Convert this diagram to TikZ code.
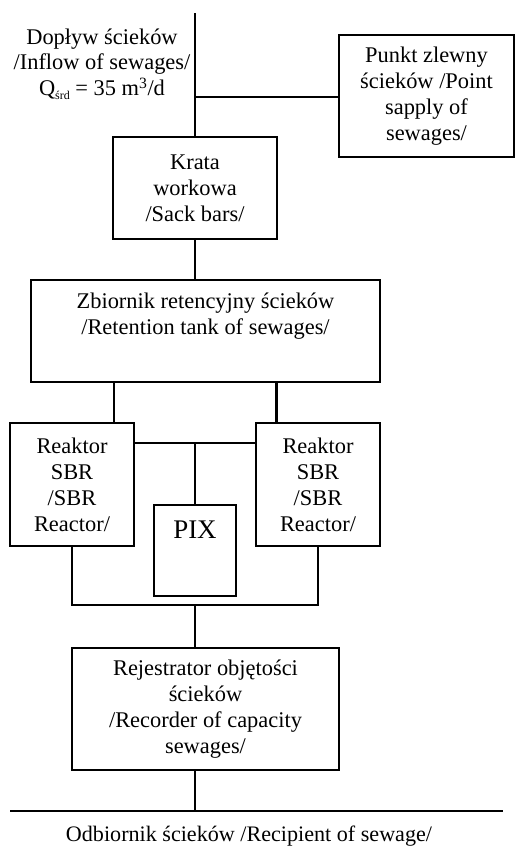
\documentclass[tikz,border=0pt]{standalone}
\usepackage{fontspec}
\setmainfont{Liberation Serif}
\usetikzlibrary{calc}
\begin{document}
\begin{tikzpicture}[x=1bp,y=-1bp,
  box/.style={draw,line width=1.7bp,inner sep=0pt,align=center,font=\fontsize{22.5}{26}\selectfont},
  txt/.style={inner sep=0pt,align=center,font=\fontsize{22.5}{26}\selectfont},
  thick line/.style={line width=2.7bp},
  thin line/.style={line width=1.7bp}]
\useasboundingbox (0,0) rectangle (515,847);
% boxes
\node[box,minimum width=175bp,minimum height=122bp] (punkt) at (426.5,96) {Punkt zlewny\\ścieków /Point\\sapply of\\sewages/};
\node[box,minimum width=164bp,minimum height=102bp] (krata) at (195,188) {Krata\\workowa\\/Sack bars/};
\node[box,minimum width=349bp,minimum height=102bp] (zb) at (205.5,331) {};
\node[txt] (zbt) at (205.5,316) {Zbiornik retencyjny ścieków\\/Retention tank of sewages/};
\node[box,minimum width=124bp,minimum height=123bp] (rl) at (72,484.5) {Reaktor\\SBR\\/SBR\\Reactor/};
\node[box,minimum width=124bp,minimum height=123bp] (rr) at (318,484.5) {Reaktor\\SBR\\/SBR\\Reactor/};
\node[box,minimum width=82bp,minimum height=91bp] (pix) at (195,550.5) {};
\node[inner sep=0pt,font=\fontsize{27}{30}\selectfont] (pixt) at (195,530) {PIX};
\node[box,minimum width=267bp,minimum height=122bp] (rej) at (205.5,709) {Rejestrator objętości\\ścieków\\/Recorder of capacity\\sewages/};
% labels
\node[txt] (dop) at (102,64) {Dopływ ścieków\\/Inflow of sewages/\\Q\raisebox{-0.35ex}{\fontsize{12}{12}\selectfont śrd} = 35 m\textsuperscript{3}/d};
\node[txt,font=\fontsize{22.2}{26}\selectfont] (odb) at (249,836) {Odbiornik ścieków /Recipient of sewage/};
% coordinates
\coordinate (top) at (195,13);
\coordinate (j1) at (195,97);
\coordinate (j2) at (195,443);
\coordinate (coll) at (195,605);
\coordinate (bl) at (10,811);
\coordinate (br) at (503,811);
\coordinate (bm) at (195,811);
% connectors
\draw[thick line] (top) -- (krata.north);
\draw[thin line] (j1) -- (j1 -| punkt.west);
\draw[thick line] (krata.south) -- (krata.south |- zb.north);
\draw[thick line] ([xshift=-21bp]rl.north east) -- ([xshift=-21bp]rl.north east |- zb.south);
\draw[thick line] ([xshift=21bp]rr.north west) -- ([xshift=21bp]rr.north west |- zb.south);
\draw[thin line] (j2 -| rl.east) -- (j2 -| rr.west);
\draw[thin line] (pix.north) -- (j2);
\draw[thin line] (rl.south) -- (rl.south |- coll) -- (rr.south |- coll) -- (rr.south);
\draw[thick line] (coll) -- (rej.north -| coll);
\draw[thin line] (rej.south -| bm) -- (bm);
\draw[thin line] (bl) -- (br);
\end{tikzpicture}
\end{document}
